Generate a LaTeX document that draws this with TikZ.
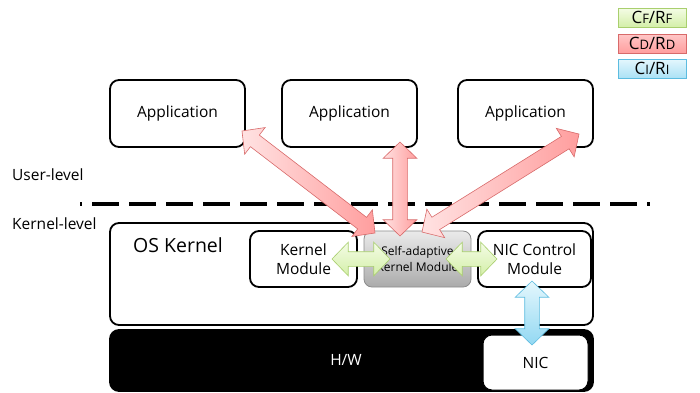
\documentclass[tikz,border=0pt]{standalone}
\usepackage{fontspec}
\setmainfont{Open Sans}
\usetikzlibrary{calc,shapes.arrows}

\definecolor{redline}{HTML}{D86A6A}
\definecolor{redlight}{HTML}{FFE2E2}
\definecolor{reddark}{HTML}{FF9E9E}
\definecolor{greenline}{HTML}{A9CF6E}
\definecolor{greenlight}{HTML}{F4FCE6}
\definecolor{greendark}{HTML}{D4EFA8}
\definecolor{blueline}{HTML}{5CBCE0}
\definecolor{bluelight}{HTML}{E4F7FD}
\definecolor{bluedark}{HTML}{92D8F2}

\tikzset{
  box/.style={draw, line width=1.8pt, rounded corners=9pt, fill=white, align=center, font=\fontsize{15.5}{19}\selectfont},
  fat/.style={double arrow, inner xsep=0pt, inner ysep=7pt, double arrow head extend=9.5pt, double arrow tip angle=92, line width=0.6pt},
  redarr/.style={fat, draw=redline, left color=redlight, right color=reddark},
  greenarr/.style={fat, draw=greenline, top color=greenlight, bottom color=greendark},
  bluearr/.style={fat, draw=blueline, top color=bluelight, bottom color=bluedark},
  legend/.style={draw, line width=0.8pt, minimum width=68pt, minimum height=19pt, inner sep=0pt, font=\fontsize{17}{19}\selectfont},
  lvl/.style={anchor=west, inner sep=0pt, font=\fontsize{15.5}{18}\selectfont}
}

% fat double arrow between two named points
\newcommand{\fatarrow}[3]{%
  \path let \p1=(#2), \p2=(#3), \n1={atan2(\y2-\y1,\x2-\x1)}, \n2={veclen(\x2-\x1,\y2-\y1)} in
    node[#1, rotate=\n1, minimum height=\n2] at ($(#2)!0.5!(#3)$) {};}

\newcommand{\sm}[1]{{\fontsize{13}{15}\selectfont #1}}

\begin{document}
\begin{tikzpicture}[x=1pt, y=-1pt]
  \useasboundingbox (0,0) rectangle (700,392);

  % legend
  \node[legend, draw=greenline, top color=greenlight, bottom color=greendark] (lf) at (652,17.5) {C\sm{F}/R\sm{F}};
  \node[legend, draw=redline, top color=redlight!60!reddark, bottom color=reddark] (ld) at (652,43.5) {C\sm{D}/R\sm{D}};
  \node[legend, draw=blueline, top color=bluelight, bottom color=bluedark!70!bluelight] (li) at (652,68.5) {C\sm{I}/R\sm{I}};

  % user level
  \node[box, minimum width=135pt, minimum height=67pt] (app1) at (177.5,113.5) {Application};
  \node[box, minimum width=135pt, minimum height=67pt] (app2) at (349.5,113.5) {Application};
  \node[box, minimum width=135pt, minimum height=67pt] (app3) at (525.5,113.5) {Application};

  \node[lvl] (user) at (12,175) {User-level};
  \node[lvl] (kern) at (12,224) {Kernel-level};

  \coordinate (dl) at (80,204);
  \coordinate (dr) at (650,204);
  \draw[line width=3.5pt, dash pattern=on 27pt off 10pt, dash phase=25pt] (dl) -- (dr);

  % kernel
  \node[box, minimum width=483pt, minimum height=102pt] (os) at (351.5,274) {};
  \node[anchor=base west, inner sep=0pt, font=\fontsize{19.5}{22}\selectfont] (oslabel) at (133,252) {OS Kernel};
  \node[box, minimum width=107pt, minimum height=56pt] (kmod) at (303.5,259) {Kernel\\Module};
  \node[draw=black!45, line width=0.8pt, rounded corners=8pt, top color=black!8, bottom color=black!33,
        minimum width=107pt, minimum height=56pt, align=center, font=\fontsize{12}{16}\selectfont] (sakm) at (417.5,259) {Self-adaptive\\Kernel Module};
  \node[box, minimum width=113pt, minimum height=56pt] (nicc) at (534.5,259) {NIC Control\\Module};

  % hardware
  \node[draw, fill=black, line width=1.8pt, rounded corners=9pt, minimum width=483pt, minimum height=61pt] (hw) at (351.5,360.5) {};
  \node[text=white, font=\fontsize{15.5}{18}\selectfont] (hwlabel) at (346,360) {H/W};
  \node[box, line width=1pt, minimum width=105pt, minimum height=55pt] (nic) at (535.5,362.5) {NIC};

  % arrows
  \coordinate (r1a) at (242,131);
  \coordinate (r1b) at (375,233);
  \coordinate (r2a) at (400,142);
  \coordinate (r2b) at (400,236);
  \coordinate (r3a) at (422,232);
  \coordinate (r3b) at (579,134);
  \coordinate (g1a) at (332,259);
  \coordinate (g1b) at (390,259);
  \coordinate (g2a) at (446,259);
  \coordinate (g2b) at (497,259);
  \coordinate (b1a) at (532,281);
  \coordinate (b1b) at (532,345);

  \fatarrow{redarr}{r1a}{r1b}
  \fatarrow{redarr}{r2a}{r2b}
  \fatarrow{redarr}{r3a}{r3b}
  \fatarrow{greenarr}{g1a}{g1b}
  \fatarrow{greenarr}{g2a}{g2b}
  \fatarrow{bluearr}{b1a}{b1b}
\end{tikzpicture}
\end{document}
